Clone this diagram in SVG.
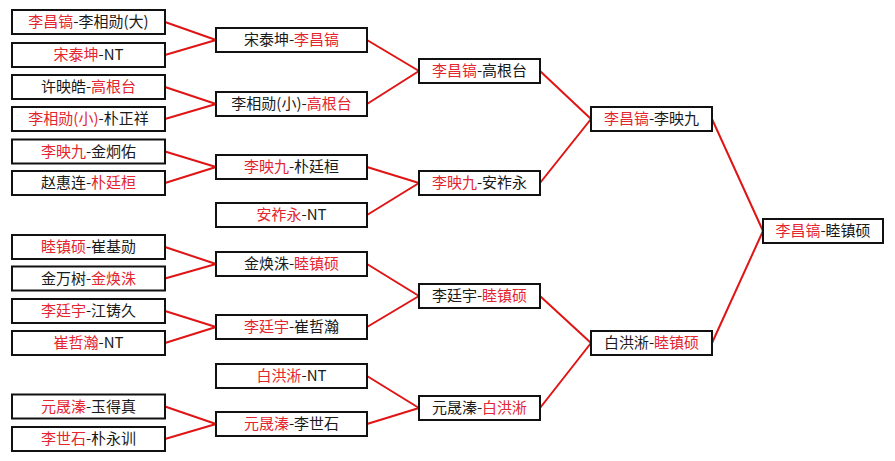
<svg xmlns="http://www.w3.org/2000/svg" width="895" height="461" viewBox="0 0 895 461">
<style>
.bg{fill:#ffffff}
.box{fill:#ffffff;stroke:#111111;stroke-width:2}
.t{font-family:"Noto Sans CJK SC","Noto Sans",sans-serif;font-size:15px;fill:#1a1a1a;text-anchor:middle}
.r{fill:#e3262f}
.c line{stroke:#e01414;stroke-width:2;stroke-linecap:round}
</style>
<rect class="bg" x="0" y="0" width="895" height="461"/>
<g id="connectors" class="c">
<line x1="165" y1="22" x2="216" y2="40"/>
<line x1="165" y1="55" x2="216" y2="40"/>
<line x1="165" y1="87" x2="216" y2="104"/>
<line x1="165" y1="119" x2="216" y2="104"/>
<line x1="165" y1="151.5" x2="216" y2="167"/>
<line x1="165" y1="183" x2="216" y2="167"/>
<line x1="165" y1="247" x2="216" y2="264"/>
<line x1="165" y1="278.5" x2="216" y2="264"/>
<line x1="165" y1="311" x2="216" y2="327"/>
<line x1="165" y1="343" x2="216" y2="327"/>
<line x1="165" y1="406.5" x2="216" y2="424"/>
<line x1="165" y1="439" x2="216" y2="424"/>
<line x1="367" y1="40" x2="419" y2="71"/>
<line x1="367" y1="104" x2="419" y2="71"/>
<line x1="367" y1="167" x2="419" y2="183"/>
<line x1="367" y1="215" x2="419" y2="183"/>
<line x1="367" y1="264" x2="419" y2="296"/>
<line x1="367" y1="327" x2="419" y2="296"/>
<line x1="367" y1="376" x2="419" y2="408"/>
<line x1="367" y1="424" x2="419" y2="408"/>
<line x1="540" y1="71" x2="591" y2="119"/>
<line x1="540" y1="183" x2="591" y2="119"/>
<line x1="540" y1="296" x2="591" y2="343"/>
<line x1="540" y1="408" x2="591" y2="343"/>
<line x1="712" y1="119" x2="763" y2="231"/>
<line x1="712" y1="343" x2="763" y2="231"/>
</g>
<g id="r1n1"><rect class="box" x="12" y="10" width="153" height="24"/><text class="t" x="88.5" y="27"><tspan class="r">李昌镐</tspan>-李相勋(大)</text></g>
<g id="r1n2"><rect class="box" x="12" y="43" width="153" height="24"/><text class="t" x="88.5" y="60"><tspan class="r">宋泰坤</tspan>-NT</text></g>
<g id="r1n3"><rect class="box" x="12" y="75" width="153" height="24"/><text class="t" x="88.5" y="92">许映皓-<tspan class="r">高根台</tspan></text></g>
<g id="r1n4"><rect class="box" x="12" y="107" width="153" height="24"/><text class="t" x="88.5" y="124"><tspan class="r">李相勋(小)</tspan>-朴正祥</text></g>
<g id="r1n5"><rect class="box" x="12" y="139.5" width="153" height="24"/><text class="t" x="88.5" y="156.5"><tspan class="r">李映九</tspan>-金炯佑</text></g>
<g id="r1n6"><rect class="box" x="12" y="171" width="153" height="24"/><text class="t" x="88.5" y="188">赵惠连-<tspan class="r">朴廷桓</tspan></text></g>
<g id="r1n7"><rect class="box" x="12" y="235" width="153" height="24"/><text class="t" x="88.5" y="252"><tspan class="r">睦镇硕</tspan>-崔基勋</text></g>
<g id="r1n8"><rect class="box" x="12" y="266.5" width="153" height="24"/><text class="t" x="88.5" y="283.5">金万树-<tspan class="r">金焕洙</tspan></text></g>
<g id="r1n9"><rect class="box" x="12" y="299" width="153" height="24"/><text class="t" x="88.5" y="316"><tspan class="r">李廷宇</tspan>-江铸久</text></g>
<g id="r1n10"><rect class="box" x="12" y="331" width="153" height="24"/><text class="t" x="88.5" y="348"><tspan class="r">崔哲瀚</tspan>-NT</text></g>
<g id="r1n11"><rect class="box" x="12" y="394.5" width="153" height="24"/><text class="t" x="88.5" y="411.5"><tspan class="r">元晟溱</tspan>-玉得真</text></g>
<g id="r1n12"><rect class="box" x="12" y="427" width="153" height="24"/><text class="t" x="88.5" y="444"><tspan class="r">李世石</tspan>-朴永训</text></g>
<g id="r2n1"><rect class="box" x="216" y="28" width="151" height="24"/><text class="t" x="291.5" y="45">宋泰坤-<tspan class="r">李昌镐</tspan></text></g>
<g id="r2n2"><rect class="box" x="216" y="92" width="151" height="24"/><text class="t" x="291.5" y="109">李相勋(小)-<tspan class="r">高根台</tspan></text></g>
<g id="r2n3"><rect class="box" x="216" y="155" width="151" height="24"/><text class="t" x="291.5" y="172"><tspan class="r">李映九</tspan>-朴廷桓</text></g>
<g id="r2n4"><rect class="box" x="216" y="203" width="151" height="24"/><text class="t" x="291.5" y="220"><tspan class="r">安祚永</tspan>-NT</text></g>
<g id="r2n5"><rect class="box" x="216" y="252" width="151" height="24"/><text class="t" x="291.5" y="269">金焕洙-<tspan class="r">睦镇硕</tspan></text></g>
<g id="r2n6"><rect class="box" x="216" y="315" width="151" height="24"/><text class="t" x="291.5" y="332"><tspan class="r">李廷宇</tspan>-崔哲瀚</text></g>
<g id="r2n7"><rect class="box" x="216" y="364" width="151" height="24"/><text class="t" x="291.5" y="381"><tspan class="r">白洪淅</tspan>-NT</text></g>
<g id="r2n8"><rect class="box" x="216" y="412" width="151" height="24"/><text class="t" x="291.5" y="429"><tspan class="r">元晟溱</tspan>-李世石</text></g>
<g id="r3n1"><rect class="box" x="419" y="59" width="121" height="24"/><text class="t" x="479.5" y="76"><tspan class="r">李昌镐</tspan>-高根台</text></g>
<g id="r3n2"><rect class="box" x="419" y="171" width="121" height="24"/><text class="t" x="479.5" y="188"><tspan class="r">李映九</tspan>-安祚永</text></g>
<g id="r3n3"><rect class="box" x="419" y="284" width="121" height="24"/><text class="t" x="479.5" y="301">李廷宇-<tspan class="r">睦镇硕</tspan></text></g>
<g id="r3n4"><rect class="box" x="419" y="396" width="121" height="24"/><text class="t" x="479.5" y="413">元晟溱-<tspan class="r">白洪淅</tspan></text></g>
<g id="r4n1"><rect class="box" x="591" y="107" width="121" height="24"/><text class="t" x="651.5" y="124"><tspan class="r">李昌镐</tspan>-李映九</text></g>
<g id="r4n2"><rect class="box" x="591" y="331" width="121" height="24"/><text class="t" x="651.5" y="348">白洪淅-<tspan class="r">睦镇硕</tspan></text></g>
<g id="final"><rect class="box" x="763" y="219" width="120" height="24"/><text class="t" x="823" y="236"><tspan class="r">李昌镐</tspan>-睦镇硕</text></g>
</svg>
